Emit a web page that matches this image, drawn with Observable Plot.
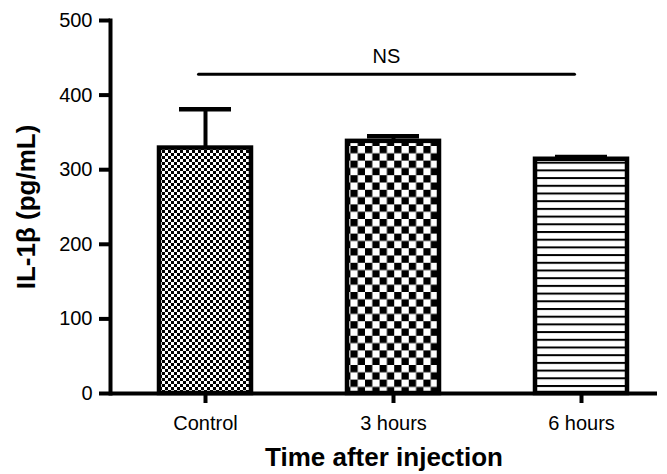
<!DOCTYPE html>
<html><head><meta charset="utf-8">
<script src="https://cdn.jsdelivr.net/npm/d3@7"></script>
<script src="https://cdn.jsdelivr.net/npm/@observablehq/plot@0.6"></script>
<style>body{margin:0;background:#fff}</style>
</head><body><div id="chart"></div>
<script>
const categories = ["Control", "3 hours", "6 hours"];
const means = [329, 338, 314];
const errors = [52, 7, 3];
const patternIds = ["pat-fine", "pat-check", "pat-stripe"];
const yTicks = [0, 100, 200, 300, 400, 500];
const nsLevel = 428;
const nsLabel = "NS";
const xTitle = "Time after injection";
const yTitle = "IL-1β (pg/mL)";

const data = categories.map((c, i) => ({cat: c, mean: means[i], top: means[i] + errors[i], fill: `url(#${patternIds[i]})`}));

const font = "'Liberation Sans', Arial, Helvetica, sans-serif";

const plot = Plot.plot({
  width: 667, height: 474,
  marginLeft: 110, marginRight: 10, marginTop: 20, marginBottom: 81,
  style: {fontFamily: font, background: "#fff", color: "#000"},
  x: {domain: categories, paddingInner: 0.511, paddingOuter: 0.21, align: 0.62, axis: null},
  y: {domain: [0, 500], axis: null},
  marks: [
    Plot.ruleX(data, {x: "cat", y1: "mean", y2: "top", strokeWidth: 4}),
    Plot.tickY(data, {x: "cat", y: "top", strokeWidth: 4.5, insetLeft: 20, insetRight: 20}),
    ...data.map((d) => Plot.barY([d], {x: "cat", y: "mean", fill: d.fill, stroke: "#000", strokeWidth: 4.5})),
    Plot.ruleY([0], {strokeWidth: 4}),
    Plot.frame({anchor: "left", strokeWidth: 4}),
    Plot.axisY({ticks: yTicks, tickSize: 11, tickPadding: 7, fontSize: 20, strokeWidth: 4, label: null}),
    Plot.axisX({tickSize: 10, tickPadding: 12, fontSize: 20, strokeWidth: 4, label: null}),
    Plot.lineY(categories, {x: (d) => d, y: () => nsLevel, strokeWidth: 3, dx: -7}),
    Plot.text([nsLabel], {x: () => categories[1], y: () => nsLevel, text: (d) => d, dx: -7, dy: -18, fontSize: 20}),
    Plot.text([xTitle], {frameAnchor: "bottom", text: (d) => d, dy: 72, fontSize: 26, fontWeight: "bold"}),
    Plot.text([yTitle], {frameAnchor: "left", textAnchor: "middle", text: (d) => d, rotate: -90, dx: -84, fontSize: 26, fontWeight: "bold"})
  ]
});

const svg = d3.select(plot);
const defs = svg.insert("defs", ":first-child");
// fine checkerboard
const p1 = defs.append("pattern").attr("id", "pat-fine").attr("patternUnits", "userSpaceOnUse").attr("width", 6).attr("height", 6);
p1.append("rect").attr("width", 6).attr("height", 6).attr("fill", "#fff");
p1.append("rect").attr("width", 3).attr("height", 3).attr("fill", "#000");
p1.append("rect").attr("x", 3).attr("y", 3).attr("width", 3).attr("height", 3).attr("fill", "#000");
// coarse checkerboard
const p2 = defs.append("pattern").attr("id", "pat-check").attr("patternUnits", "userSpaceOnUse").attr("width", 14.6).attr("height", 14.6);
p2.append("rect").attr("width", 14.6).attr("height", 14.6).attr("fill", "#fff");
p2.append("rect").attr("width", 7.3).attr("height", 7.3).attr("fill", "#000");
p2.append("rect").attr("x", 7.3).attr("y", 7.3).attr("width", 7.3).attr("height", 7.3).attr("fill", "#000");
// horizontal stripes
const p3 = defs.append("pattern").attr("id", "pat-stripe").attr("patternUnits", "userSpaceOnUse").attr("width", 10).attr("height", 7.7);
p3.append("rect").attr("width", 10).attr("height", 7.7).attr("fill", "#fff");
p3.append("rect").attr("y", 0).attr("width", 10).attr("height", 2).attr("fill", "#000");

document.getElementById("chart").appendChild(plot);
</script>
</body></html>
